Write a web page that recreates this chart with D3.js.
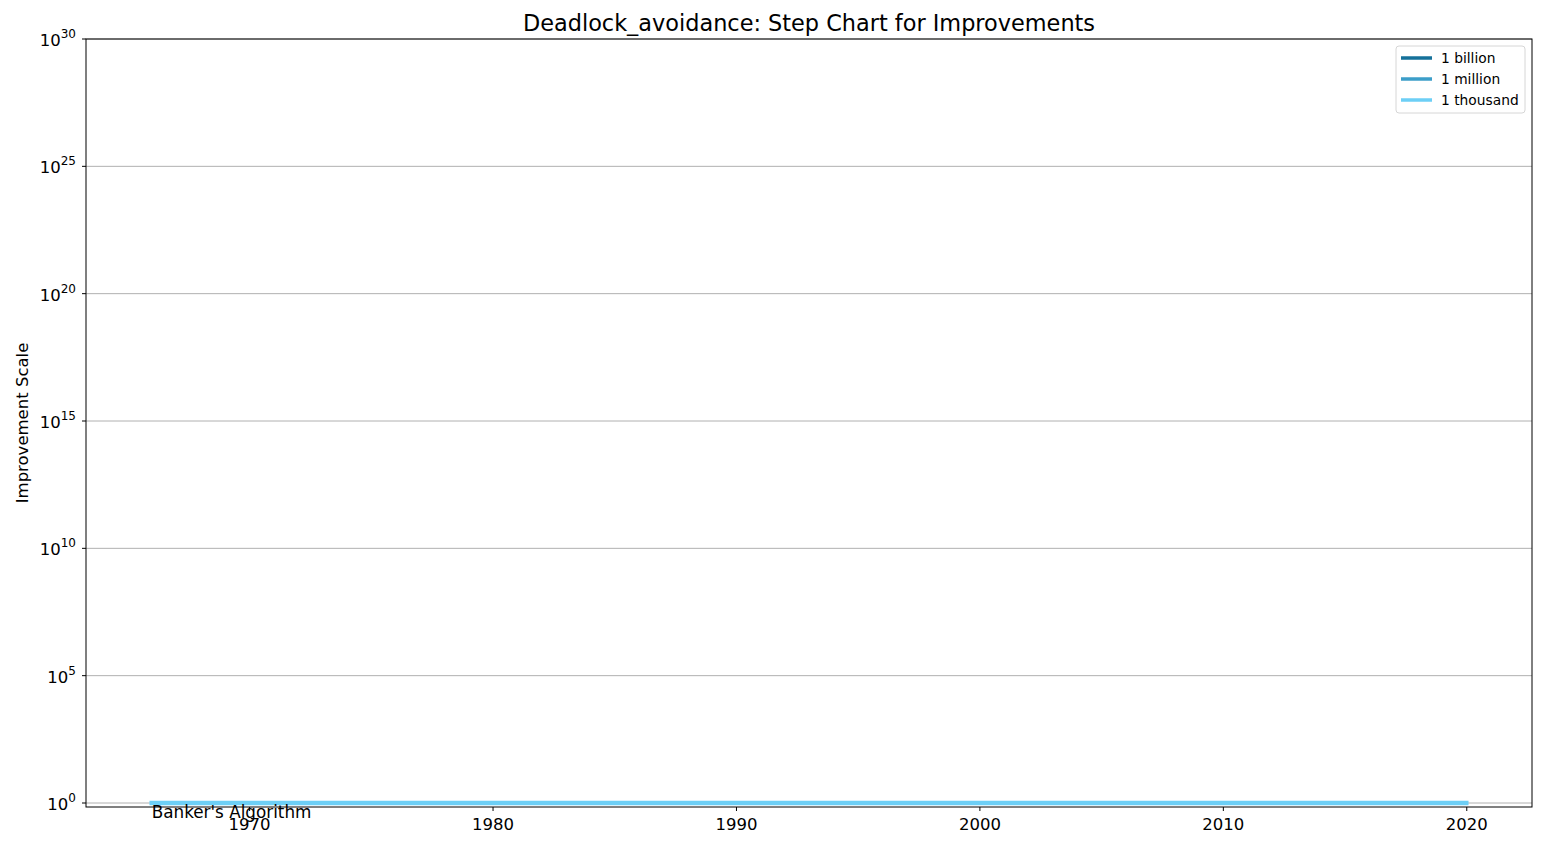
<!DOCTYPE html>
<html>
<head>
<meta charset="utf-8">
<script src="https://cdn.jsdelivr.net/npm/d3@7"></script>
<style>
  body { margin: 0; background: #fff; }
  text { font-family: "DejaVu Sans", sans-serif; }
</style>
</head>
<body>
<svg id="chart" width="1550" height="850"></svg>
<script>
// step data: one improvement
var years = [1966, 2020];
var improvements = [1, 1];
var labels = ["Banker's Algorithm"];
var labelYears = [1966];
var labelValues = [1];

var xTicks = [1970, 1980, 1990, 2000, 2010, 2020];
var yExponents = [0, 5, 10, 15, 20, 25, 30];

var legendNames = ["1 billion", "1 million", "1 thousand"];
var legendColors = ["#15719a", "#3c9ec9", "#6dcff6"];

var width = 1550, height = 850;
var margin = {top: 39, right: 18, bottom: 43, left: 86};

var svg = d3.select("#chart");

var x = d3.scaleLinear()
	.domain([1963.3, 2022.7])
	.range([margin.left, width - margin.right]);

var y = d3.scaleLog()
	.domain([Math.pow(10, -0.157), 1e30])
	.range([height - margin.bottom, margin.top]);

// horizontal grid
svg.append("g")
	.selectAll("line")
	.data(yExponents)
	.enter()
	.append("line")
	.attr("x1", margin.left)
	.attr("x2", width - margin.right)
	.attr("y1", function(d) { return y(Math.pow(10, d)); })
	.attr("y2", function(d) { return y(Math.pow(10, d)); })
	.style("stroke", "#b0b0b0")
	.style("stroke-width", 1);

// the step line
var line = d3.line()
	.x(function(d) { return x(d[0]); })
	.y(function(d) { return y(d[1]); })
	.curve(d3.curveStepAfter);

svg.append("path")
	.datum(d3.zip(years, improvements))
	.attr("d", line)
	.style("fill", "none")
	.style("stroke", legendColors[2])
	.style("stroke-width", 4.5)
	.style("stroke-linecap", "square");

svg.selectAll(".stepLabel")
	.data(labels)
	.enter()
	.append("text")
	.attr("class", "stepLabel")
	.attr("x", function(d, i) { return x(labelYears[i]); })
	.attr("y", function(d, i) { return y(labelValues[i]) + 15; })
	.style("font-size", "16.8px")
	.text(function(d) { return d; });

// x axis
var xAxis = d3.axisBottom(x)
	.tickValues(xTicks)
	.tickFormat(d3.format("d"))
	.tickSize(4)
	.tickPadding(7);

var gx = svg.append("g")
	.attr("transform", "translate(0," + (height - margin.bottom) + ")")
	.call(xAxis);
gx.select(".domain").remove();
gx.selectAll("text").style("font-size", "16.5px").style("font-family", "DejaVu Sans");
gx.selectAll("line").style("stroke", "#000");

// y axis ticks, labels with superscript
var gy = svg.append("g");
gy.selectAll("line")
	.data(yExponents)
	.enter()
	.append("line")
	.attr("x1", margin.left - 4)
	.attr("x2", margin.left)
	.attr("y1", function(d) { return y(Math.pow(10, d)); })
	.attr("y2", function(d) { return y(Math.pow(10, d)); })
	.style("stroke", "#000");

var yLabel = gy.selectAll("text")
	.data(yExponents)
	.enter()
	.append("text")
	.attr("x", margin.left - 10)
	.attr("y", function(d) { return y(Math.pow(10, d)) + 7; })
	.attr("text-anchor", "end")
	.style("font-size", "16.5px");
yLabel.append("tspan").text("10");
yLabel.append("tspan")
	.attr("dy", -8)
	.style("font-size", "12px")
	.text(function(d) { return d; });

// frame
svg.append("rect")
	.attr("x", margin.left)
	.attr("y", margin.top)
	.attr("width", width - margin.left - margin.right)
	.attr("height", height - margin.top - margin.bottom)
	.style("fill", "none")
	.style("stroke", "#000")
	.style("stroke-width", 1);

// title and axis label
svg.append("text")
	.attr("x", (margin.left + width - margin.right) / 2)
	.attr("y", 31)
	.attr("text-anchor", "middle")
	.style("font-size", "22.4px")
	.text("Deadlock_avoidance: Step Chart for Improvements");

svg.append("text")
	.attr("transform", "translate(28," + ((margin.top + height - margin.bottom) / 2) + ") rotate(-90)")
	.attr("text-anchor", "middle")
	.style("font-size", "16.5px")
	.text("Improvement Scale");

// legend
var legendGroup = svg.append("g")
	.attr("transform", "translate(1396,46)");

legendGroup.append("rect")
	.attr("width", 129)
	.attr("height", 67)
	.attr("rx", 3)
	.attr("ry", 3)
	.style("fill", "#fff")
	.style("fill-opacity", 0.8)
	.style("stroke", "#d6d6d6");

var legend = legendGroup.selectAll(".legend")
	.data(legendNames)
	.enter()
	.append("g")
	.attr("class", "legend")
	.attr("transform", function(d, i) { return "translate(0," + (12 + i * 21) + ")"; });

legend.append("line")
	.attr("x1", 5)
	.attr("x2", 36)
	.style("stroke", function(d, i) { return legendColors[i]; })
	.style("stroke-width", 3.5);

legend.append("text")
	.attr("x", 45)
	.attr("dy", "0.35em")
	.style("font-size", "13.8px")
	.text(function(d) { return d; });
</script>
</body>
</html>
